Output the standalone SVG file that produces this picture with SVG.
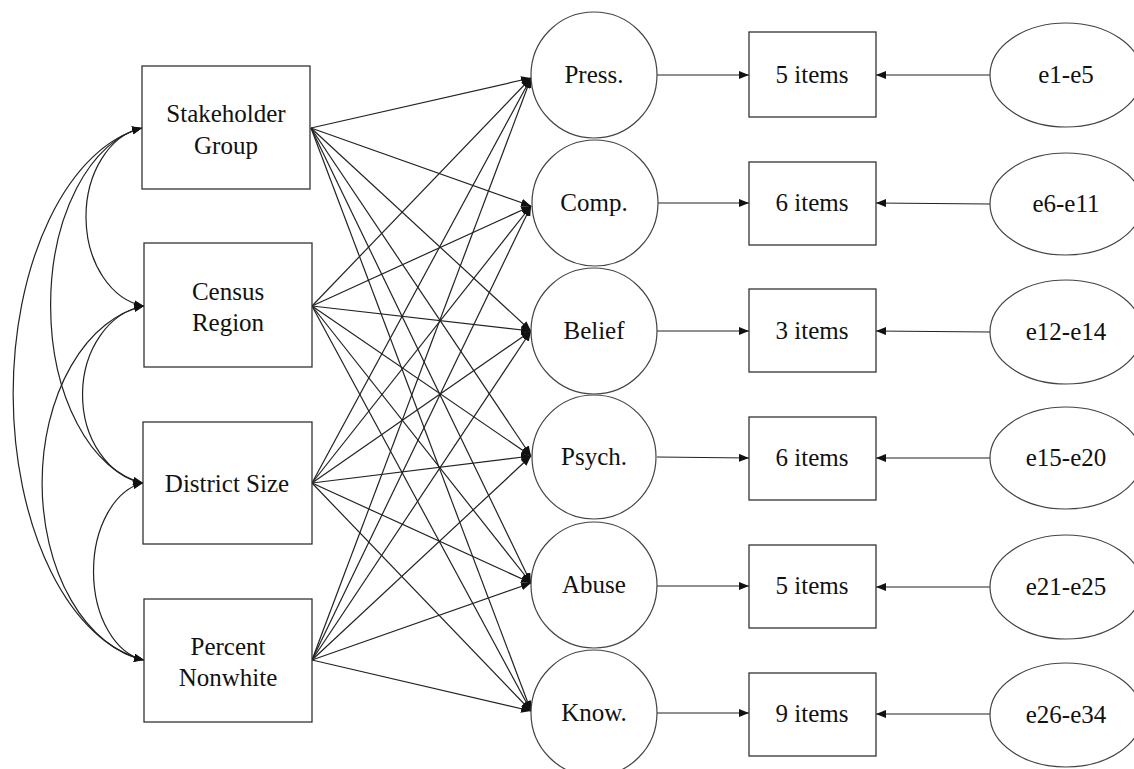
<svg xmlns="http://www.w3.org/2000/svg" width="1134" height="769" viewBox="0 0 1134 769">
<defs>
<style>
.box{fill:#fff;stroke:#333;stroke-width:1.3}
.lat{fill:#fff;stroke:#444;stroke-width:1.2}
.t{font-family:'Liberation Serif','Times New Roman',serif;font-size:25px;fill:#111;text-anchor:middle}
.ln{fill:none;stroke:#222;stroke-width:1.2}
.ar{marker-end:url(#ah)}
.cv{marker-start:url(#ah);marker-end:url(#ah)}
</style>
<marker id="ah" markerUnits="userSpaceOnUse" markerWidth="10" markerHeight="8" refX="10" refY="4" orient="auto-start-reverse">
<path d="M0,0 L10,4 L0,8 z" fill="#111"/>
</marker>
</defs>
<rect width="1134" height="769" fill="#fff"/>

<g id="connectors">
<path class="ln cv" d="M142,128 A66.3,89.9 0 0 0 144,306"/>
<path class="ln cv" d="M142,128 A107,179.3 0 0 0 143,483"/>
<path class="ln cv" d="M142,128 A151.2,268.7 0 0 0 144,660"/>
<path class="ln cv" d="M144,306 A71,89.4 0 0 0 143,483"/>
<path class="ln cv" d="M144,306 A118.7,178.8 0 0 0 144,660"/>
<path class="ln cv" d="M143,483 A58.2,89.4 0 0 0 144,660"/>
<line class="ln ar" x1="311" y1="128" x2="531" y2="78"/>
<line class="ln ar" x1="311" y1="128" x2="531" y2="206"/>
<line class="ln ar" x1="311" y1="128" x2="531" y2="331"/>
<line class="ln ar" x1="311" y1="128" x2="531" y2="456"/>
<line class="ln ar" x1="311" y1="128" x2="531" y2="583"/>
<line class="ln ar" x1="311" y1="128" x2="531" y2="711"/>
<line class="ln ar" x1="312" y1="306" x2="531" y2="78"/>
<line class="ln ar" x1="312" y1="306" x2="531" y2="206"/>
<line class="ln ar" x1="312" y1="306" x2="531" y2="331"/>
<line class="ln ar" x1="312" y1="306" x2="531" y2="456"/>
<line class="ln ar" x1="312" y1="306" x2="531" y2="583"/>
<line class="ln ar" x1="312" y1="306" x2="531" y2="711"/>
<line class="ln ar" x1="312" y1="483" x2="531" y2="78"/>
<line class="ln ar" x1="312" y1="483" x2="531" y2="206"/>
<line class="ln ar" x1="312" y1="483" x2="531" y2="331"/>
<line class="ln ar" x1="312" y1="483" x2="531" y2="456"/>
<line class="ln ar" x1="312" y1="483" x2="531" y2="583"/>
<line class="ln ar" x1="312" y1="483" x2="531" y2="711"/>
<line class="ln ar" x1="312" y1="660" x2="531" y2="78"/>
<line class="ln ar" x1="312" y1="660" x2="531" y2="206"/>
<line class="ln ar" x1="312" y1="660" x2="531" y2="331"/>
<line class="ln ar" x1="312" y1="660" x2="531" y2="456"/>
<line class="ln ar" x1="312" y1="660" x2="531" y2="583"/>
<line class="ln ar" x1="312" y1="660" x2="531" y2="711"/>
<line class="ln ar" x1="657" y1="75" x2="749" y2="75"/>
<line class="ln ar" x1="657" y1="203" x2="749" y2="203"/>
<line class="ln ar" x1="657" y1="331" x2="749" y2="331"/>
<line class="ln ar" x1="657" y1="457" x2="749" y2="458"/>
<line class="ln ar" x1="657" y1="586" x2="749" y2="586"/>
<line class="ln ar" x1="657" y1="713" x2="749" y2="713"/>
<line class="ln ar" x1="990" y1="75" x2="876" y2="75"/>
<line class="ln ar" x1="990" y1="204" x2="876" y2="203"/>
<line class="ln ar" x1="990" y1="332" x2="876" y2="331"/>
<line class="ln ar" x1="990" y1="458" x2="876" y2="458"/>
<line class="ln ar" x1="990" y1="587" x2="876" y2="587"/>
<line class="ln ar" x1="990" y1="714" x2="876" y2="714"/>
</g>

<g id="stakeholder"><rect class="box" x="142" y="66" width="168" height="123"/><text class="t" x="226" y="122">Stakeholder</text><text class="t" x="226" y="154">Group</text></g>
<g id="census"><rect class="box" x="144" y="243" width="168" height="124"/><text class="t" x="228" y="300">Census</text><text class="t" x="228" y="331">Region</text></g>
<g id="district"><rect class="box" x="143" y="422" width="169" height="122"/><text class="t" x="227" y="492">District Size</text></g>
<g id="percent"><rect class="box" x="144" y="599" width="168" height="123"/><text class="t" x="228" y="655">Percent</text><text class="t" x="228" y="686">Nonwhite</text></g>

<g id="press"><circle class="lat" cx="594" cy="75" r="63"/><text class="t" x="594" y="83">Press.</text></g>
<g id="comp"><circle class="lat" cx="595" cy="203" r="63"/><text class="t" x="594" y="211">Comp.</text></g>
<g id="belief"><circle class="lat" cx="594" cy="331" r="63"/><text class="t" x="594" y="339">Belief</text></g>
<g id="psych"><circle class="lat" cx="594" cy="457" r="62"/><text class="t" x="594" y="465">Psych.</text></g>
<g id="abuse"><circle class="lat" cx="594" cy="585" r="63"/><text class="t" x="594" y="593">Abuse</text></g>
<g id="know"><circle class="lat" cx="594" cy="713" r="63"/><text class="t" x="594" y="721">Know.</text></g>

<g id="items1"><rect class="box" x="749" y="32" width="127" height="85"/><text class="t" x="812" y="83">5 items</text></g>
<g id="items2"><rect class="box" x="749" y="162" width="127" height="83"/><text class="t" x="812" y="211">6 items</text></g>
<g id="items3"><rect class="box" x="749" y="289" width="127" height="83"/><text class="t" x="812" y="339">3 items</text></g>
<g id="items4"><rect class="box" x="749" y="417" width="127" height="83"/><text class="t" x="812" y="466">6 items</text></g>
<g id="items5"><rect class="box" x="749" y="545" width="127" height="83"/><text class="t" x="812" y="594">5 items</text></g>
<g id="items6"><rect class="box" x="749" y="673" width="127" height="83"/><text class="t" x="812" y="722">9 items</text></g>

<g id="e1"><ellipse class="lat" cx="1066" cy="75" rx="76" ry="52"/><text class="t" x="1066" y="83">e1-e5</text></g>
<g id="e2"><ellipse class="lat" cx="1066" cy="204" rx="76" ry="51"/><text class="t" x="1066" y="212">e6-e11</text></g>
<g id="e3"><ellipse class="lat" cx="1066" cy="332" rx="76" ry="52"/><text class="t" x="1066" y="340">e12-e14</text></g>
<g id="e4"><ellipse class="lat" cx="1066" cy="458" rx="76" ry="51"/><text class="t" x="1066" y="466">e15-e20</text></g>
<g id="e5"><ellipse class="lat" cx="1066" cy="587" rx="76" ry="52"/><text class="t" x="1066" y="595">e21-e25</text></g>
<g id="e6"><ellipse class="lat" cx="1066" cy="715" rx="76" ry="52"/><text class="t" x="1066" y="723">e26-e34</text></g>
</svg>
